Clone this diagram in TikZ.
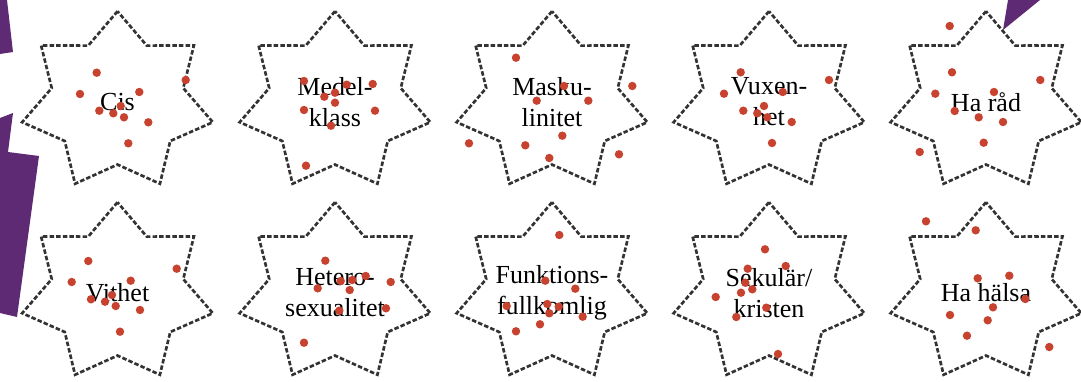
\documentclass[tikz,border=0pt]{standalone}
\usepackage{fontspec}
\setmainfont{Liberation Serif}
\usetikzlibrary{shapes.geometric}
\definecolor{dotred}{HTML}{C8432F}
\definecolor{sidepurple}{HTML}{5E2A73}

\begin{document}
\begin{tikzpicture}[x=0.025cm,y=-0.025cm,
    starbox/.style={draw=black!80,star,star points=7,star point ratio=1.45,
      minimum size=4.7cm,inner sep=0pt,xscale=1.04,yscale=0.965,
      line width=1.9pt,dash pattern=on 3.2pt off 1.5pt},
    lbl/.style={font=\fontsize{18.5}{22}\selectfont,align=center,inner sep=0pt},
    dot/.style={fill=dotred}]
    \useasboundingbox (0,0) rectangle (1081,382);
    % purple pieces at the edges
    \fill[sidepurple] (0,0) -- (7,0) -- (13,52) -- (0,54) -- cycle;
    \fill[sidepurple] (0,118) -- (13,113) -- (8,152) -- (39,156) -- (17,317) -- (0,313) -- cycle;
    \fill[sidepurple] (1003,30) -- (1008,0) -- (1040,0) -- cycle;
    % top row
    \node[starbox] (cis) at (117.5,102) {};
    \node[starbox] (medel) at (335,102) {};
    \node[starbox] (masku) at (552,102) {};
    \node[starbox] (vuxen) at (769,102) {};
    \node[starbox] (rad) at (986,102) {};
    \node[lbl] (cis-t) at (cis) {Cis};
    \node[lbl] (medel-t) at (medel) {Medel-\\klass};
    \node[lbl] (masku-t) at (masku) {Masku-\\linitet};
    \node[lbl] (vuxen-t) at (vuxen) {Vuxen-\\het};
    \node[lbl] (rad-t) at (rad) {Ha råd};
    % bottom row
    \node[starbox] (vit) at (117.5,293) {};
    \node[starbox] (hetero) at (335,293) {};
    \node[starbox] (funk) at (552,293) {};
    \node[starbox] (sek) at (769,293) {};
    \node[starbox] (halsa) at (986,293) {};
    \node[lbl] (vit-t) at (vit) {Vithet};
    \node[lbl] (hetero-t) at (hetero) {Hetero-\\sexualitet};
    \node[lbl] (funk-t) at (funk) {Funktions-\\fullkomlig};
    \node[lbl] (sek-t) at (sek) {Sekulär/\\kristen};
    \node[lbl] (halsa-t) at (halsa) {Ha hälsa};
    % dots
    \fill[dot] (96.7,72.7) circle (3pt) (185.7,80) circle (3pt) (80,94) circle (3pt)
      (139.3,92) circle (3pt) (99.3,110.7) circle (3pt) (113.3,113.3) circle (3pt)
      (120.7,106) circle (3pt) (124,117.3) circle (3pt) (148.3,122.3) circle (3pt)
      (128.3,143.3) circle (3pt);
    \fill[dot] (304,81) circle (3pt) (372.7,84) circle (3pt) (346.7,84.7) circle (3pt)
      (335,92.7) circle (3pt) (324.3,96.7) circle (3pt) (335,102.7) circle (3pt)
      (304,110) circle (3pt) (375,110.7) circle (3pt) (331,125.7) circle (3pt)
      (306,165.7) circle (3pt);
    \fill[dot] (516,57.7) circle (3pt) (632.3,86) circle (3pt) (564,86) circle (3pt)
      (536.7,100.7) circle (3pt) (588.3,100.7) circle (3pt) (562.3,135.7) circle (3pt)
      (469,143.3) circle (3pt) (525.3,145.3) circle (3pt) (619,154.3) circle (3pt)
      (549.3,158) circle (3pt);
    \fill[dot] (740.7,72.3) circle (3pt) (829,80) circle (3pt) (724,93.7) circle (3pt)
      (782.7,92) circle (3pt) (743.3,110.7) circle (3pt) (764,106) circle (3pt)
      (757.3,113.3) circle (3pt) (767.3,117.3) circle (3pt) (791.7,122) circle (3pt)
      (772,143) circle (3pt);
    \fill[dot] (949.7,26) circle (3pt) (952,72.3) circle (3pt) (1040.3,80) circle (3pt)
      (935.3,93.7) circle (3pt) (994,92) circle (3pt) (954.7,111) circle (3pt)
      (978.7,117.3) circle (3pt) (1003,122) circle (3pt) (983.7,142.7) circle (3pt)
      (919.7,152) circle (3pt);
    \fill[dot] (88.3,261) circle (3pt) (176.7,268.7) circle (3pt) (71.7,282) circle (3pt)
      (130.7,280.7) circle (3pt) (91,299.3) circle (3pt) (105,301.7) circle (3pt)
      (112,295) circle (3pt) (115.7,306) circle (3pt) (140,310) circle (3pt)
      (120,331.7) circle (3pt);
    \fill[dot] (325.3,260.7) circle (3pt) (365.7,276) circle (3pt) (340.7,281) circle (3pt)
      (352.3,280) circle (3pt) (390.7,282) circle (3pt) (317.7,288.3) circle (3pt)
      (349.7,290) circle (3pt) (386,308.3) circle (3pt) (339.3,310.7) circle (3pt)
      (304,342.7) circle (3pt);
    \fill[dot] (559.3,235) circle (3pt) (545.3,280.7) circle (3pt) (575.3,288.7) circle (3pt)
      (506.7,306) circle (3pt) (547.3,304) circle (3pt) (558.7,306.7) circle (3pt)
      (549.3,313.3) circle (3pt) (582.7,316.7) circle (3pt) (540,324.3) circle (3pt)
      (516,331.3) circle (3pt);
    \fill[dot] (765,249.3) circle (3pt) (785.7,266) circle (3pt) (747.7,268.7) circle (3pt)
      (745.3,282.7) circle (3pt) (741,292.7) circle (3pt) (752.3,289.3) circle (3pt)
      (715.7,297) circle (3pt) (766.3,307.7) circle (3pt) (736.3,317) circle (3pt)
      (778,354) circle (3pt);
    \fill[dot] (926,221.3) circle (3pt) (975.7,230.3) circle (3pt) (977.7,278.3) circle (3pt)
      (1009.3,275.7) circle (3pt) (1025.3,299) circle (3pt) (993,307.3) circle (3pt)
      (950,315) circle (3pt) (987.7,320.3) circle (3pt) (967,335.7) circle (3pt)
      (1049.3,347) circle (3pt);
\end{tikzpicture}
\end{document}
